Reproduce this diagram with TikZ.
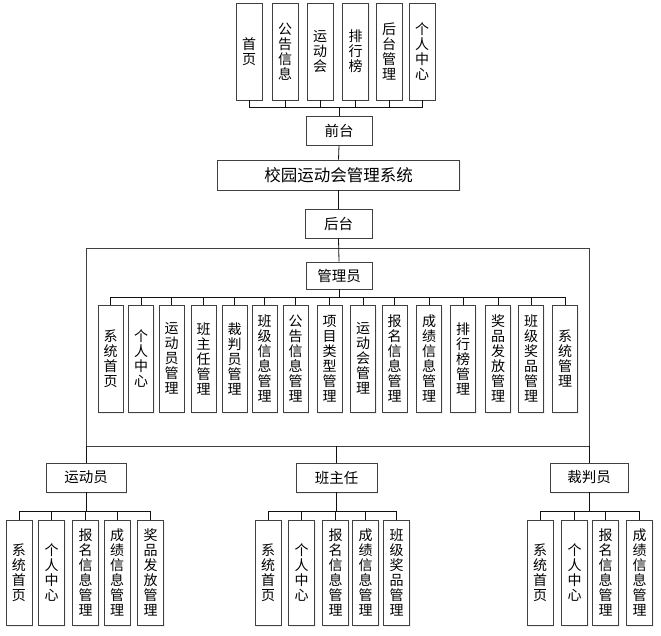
\documentclass[tikz,border=0pt]{standalone}
\usepackage{fontspec}
\setmainfont{Noto Sans CJK SC}
\usetikzlibrary{shadows}
\definecolor{frame}{HTML}{404040}
\definecolor{link}{HTML}{111111}

\begin{document}
\begin{tikzpicture}[x=1pt,y=-1pt,
  box/.style={draw=frame,line width=0.9pt,fill=white,inner sep=0pt,align=center,
    font=\fontsize{14}{15}\selectfont,
    drop shadow={opacity=0.12,shadow xshift=1pt,shadow yshift=-1.5pt}},
  vbox/.style={box,minimum width=25pt,minimum height=#1},
  hbox/.style={box,minimum height=29pt,font=\fontsize{14.5}{16}\selectfont},
  conn/.style={draw=link,line width=0.8pt}]
  \useasboundingbox (0,0) rectangle (661,636);

  % front end
  \node[vbox=97pt,minimum width=26pt] (f1) at (249,51.5) {首\\页};
  \node[vbox=97pt,minimum width=26pt] (f2) at (285,51.5) {公\\告\\信\\息};
  \node[vbox=97pt,minimum width=26pt] (f3) at (320,51.5) {运\\动\\会};
  \node[vbox=97pt,minimum width=26pt] (f4) at (355.5,51.5) {排\\行\\榜};
  \node[vbox=97pt,minimum width=26pt] (f5) at (389,51.5) {后\\台\\管\\理};
  \node[vbox=97pt,minimum width=26pt] (f6) at (422,51.5) {个\\人\\中\\心};
  \node[hbox,minimum width=66pt] (qiantai) at (339,130.5) {前台};

  % system
  \node[hbox,minimum width=242pt,minimum height=30pt,font=\fontsize{16.5}{18}\selectfont] (xitong) at (338.5,175) {校园运动会管理系统};

  % back end
  \node[hbox,minimum width=67pt] (houtai) at (338.5,223.5) {后台};
  \coordinate (fsw) at (86,446);
  \coordinate (fne) at (589,248);
  \draw[draw=frame,line width=0.9pt] (fsw) rectangle (fne);
  \node[hbox,minimum width=66pt,minimum height=27pt] (guanli) at (339,275.5) {管理员};

  % administrator modules
  \node[vbox=107pt] (a1) at (110.5,358.5) {系\\统\\首\\页};
  \node[vbox=107pt] (a2) at (141,358.5) {个\\人\\中\\心};
  \node[vbox=107pt] (a3) at (171.5,358.5) {运\\动\\员\\管\\理};
  \node[vbox=107pt] (a4) at (203.5,358.5) {班\\主\\任\\管\\理};
  \node[vbox=107pt] (a5) at (234.5,358.5) {裁\\判\\员\\管\\理};
  \node[vbox=107pt] (a6) at (264.5,358.5) {班\\级\\信\\息\\管\\理};
  \node[vbox=107pt] (a7) at (295.5,358.5) {公\\告\\信\\息\\管\\理};
  \node[vbox=107pt] (a8) at (329.5,358.5) {项\\目\\类\\型\\管\\理};
  \node[vbox=107pt] (a9) at (363,358.5) {运\\动\\会\\管\\理};
  \node[vbox=107pt] (a10) at (394.5,358.5) {报\\名\\信\\息\\管\\理};
  \node[vbox=107pt] (a11) at (429,358.5) {成\\绩\\信\\息\\管\\理};
  \node[vbox=107pt] (a12) at (463,358.5) {排\\行\\榜\\管\\理};
  \node[vbox=107pt] (a13) at (498,358.5) {奖\\品\\发\\放\\管\\理};
  \node[vbox=107pt] (a14) at (531,358.5) {班\\级\\奖\\品\\管\\理};
  \node[vbox=107pt] (a15) at (565,358.5) {系\\统\\管\\理};

  % roles
  \node[hbox,minimum width=80pt] (yundong) at (86,477.5) {运动员};
  \node[hbox,minimum width=81pt] (banzhu) at (336.5,477.5) {班主任};
  \node[hbox,minimum width=78pt] (caipan) at (589,477.5) {裁判员};

  % athlete modules
  \node[vbox=105pt,minimum width=26pt] (y1) at (19,572.5) {系\\统\\首\\页};
  \node[vbox=105pt,minimum width=26pt] (y2) at (51.5,572.5) {个\\人\\中\\心};
  \node[vbox=105pt,minimum width=26pt] (y3) at (85.5,572.5) {报\\名\\信\\息\\管\\理};
  \node[vbox=105pt,minimum width=26pt] (y4) at (117,572.5) {成\\绩\\信\\息\\管\\理};
  \node[vbox=105pt,minimum width=26pt] (y5) at (150.5,572.5) {奖\\品\\发\\放\\管\\理};

  % head teacher modules
  \node[vbox=105pt,minimum width=26pt] (b1) at (268,572.5) {系\\统\\首\\页};
  \node[vbox=105pt,minimum width=26pt] (b2) at (301.5,572.5) {个\\人\\中\\心};
  \node[vbox=105pt,minimum width=26pt] (b3) at (335.5,572.5) {报\\名\\信\\息\\管\\理};
  \node[vbox=105pt,minimum width=26pt] (b4) at (365.5,572.5) {成\\绩\\信\\息\\管\\理};
  \node[vbox=105pt,minimum width=26pt] (b5) at (396.5,572.5) {班\\级\\奖\\品\\管\\理};

  % referee modules
  \node[vbox=105pt,minimum width=26pt] (c1) at (540,572.5) {系\\统\\首\\页};
  \node[vbox=105pt,minimum width=26pt] (c2) at (574.5,572.5) {个\\人\\中\\心};
  \node[vbox=105pt,minimum width=26pt] (c3) at (605.5,572.5) {报\\名\\信\\息\\管\\理};
  \node[vbox=105pt,minimum width=26pt] (c4) at (639.5,572.5) {成\\绩\\信\\息\\管\\理};

  % connectors
  \foreach \n in {f1,f2,f3,f4,f5,f6}
    \draw[conn] (\n.south) -- ++(0,7) -| (qiantai.north);
  \draw[conn] (qiantai.south) -- (xitong.north);
  \draw[conn] (xitong.south) -- (houtai.north);
  \draw[conn] (houtai.south) -- (guanli.north);
  \foreach \n in {a1,a2,a3,a4,a5,a6,a7,a8,a9,a10,a11,a12,a13,a14,a15}
    \draw[conn] (guanli.south) -- ++(0,8) -| (\n.north);
  \draw[conn] (fsw) -- (yundong.north);
  \draw[conn] (banzhu.north |- fsw) -- (banzhu.north);
  \draw[conn] (fne |- fsw) -- (caipan.north);
  \foreach \n in {y1,y2,y3,y4,y5}
    \draw[conn] (yundong.south) -- ++(0,19) -| (\n.north);
  \foreach \n in {b1,b2,b3,b4,b5}
    \draw[conn] (banzhu.south) -- ++(0,19) -| (\n.north);
  \foreach \n in {c1,c2,c3,c4}
    \draw[conn] (caipan.south) -- ++(0,19) -| (\n.north);
\end{tikzpicture}
\end{document}
